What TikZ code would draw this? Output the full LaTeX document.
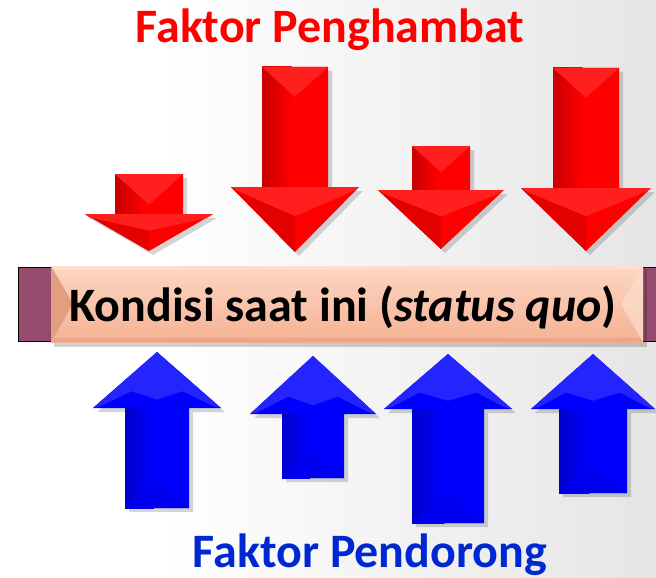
\documentclass[tikz,border=0pt]{standalone}
\usepackage{fontspec}
\setmainfont{Carlito}
\definecolor{arrred}{RGB}{255,0,0}
\definecolor{arrblue}{RGB}{0,0,255}
\definecolor{titleblue}{RGB}{0,40,210}
\definecolor{barpurple}{RGB}{150,75,110}
\definecolor{boxtop}{RGB}{252,214,194}
\definecolor{boxbot}{RGB}{245,178,148}
\definecolor{boxlight}{RGB}{253,222,204}
\definecolor{boxdark}{RGB}{226,158,128}
\newcommand{\redarr}[6]{% cx, half shaft, top, head base, half head, tip
  \fill[black,opacity=0.16] ({#1-#2+4},{#3+4}) -- ({#1+#2+4},{#3+4}) -- ({#1+#2+4},{#4+4}) -- ({#1+#5+4},{#4+4}) -- ({#1+4},{#6+4}) -- ({#1-#5+4},{#4+4}) -- ({#1-#2+4},{#4+4}) -- cycle;
  \fill[arrred] ({#1-#2},#3) -- ({#1+#2},#3) -- ({#1+#2},#4) -- ({#1+#5},#4) -- (#1,#6) -- ({#1-#5},#4) -- ({#1-#2},#4) -- cycle;
  \shade[left color=arrred!78!black,right color=arrred] ({#1-#2},#3) rectangle ({#1-#2*0.1},#4);
  \fill[arrred!88!white] ({#1-#2},#3) -- ({#1+#2},#3) -- (#1,{#3+#2*0.9}) -- cycle;
  \fill[arrred!88!white] ({#1-#5},#4) -- ({#1+#5},#4) -- ({#1+#5-6},{#4+4}) -- (#1,{#4+(#6-#4)*0.45}) -- ({#1-#5+6},{#4+4}) -- cycle;
  \fill[arrred!90!black] ({#1-#5+6},{#4+4}) -- (#1,{#4+(#6-#4)*0.45}) -- (#1,#6) -- ({#1-#5},#4) -- cycle;
}
\newcommand{\bluearr}[6]{% cx, half shaft, bottom, head base, half head, tip
  \fill[black,opacity=0.16] ({#1-#2+4},{#3+4}) -- ({#1+#2+4},{#3+4}) -- ({#1+#2+4},{#4+4}) -- ({#1+#5+4},{#4+4}) -- ({#1+4},{#6+4}) -- ({#1-#5+4},{#4+4}) -- ({#1-#2+4},{#4+4}) -- cycle;
  \fill[arrblue] ({#1-#2},#3) -- ({#1+#2},#3) -- ({#1+#2},#4) -- ({#1+#5},#4) -- (#1,#6) -- ({#1-#5},#4) -- ({#1-#2},#4) -- cycle;
  \shade[left color=arrblue!80!black,right color=arrblue] ({#1-#2},#3) rectangle ({#1-#2*0.1},#4);
  \fill[arrblue!94!black] ({#1-#2},#3) -- ({#1+#2},#3) -- (#1,{#3-#2*0.9}) -- cycle;
  \fill[arrblue!86!white] ({#1-#5},#4) -- (#1,#6) -- ({#1+#5},#4) -- ({#1+#5-8},{#4-2}) -- ({#1+#2*0.8},{#4-(#4-#6)*0.3}) -- (#1,{#4-(#4-#6)*0.15}) -- ({#1-#2*0.8},{#4-(#4-#6)*0.3}) -- ({#1-#5+8},{#4-2}) -- cycle;
}
\begin{document}
\begin{tikzpicture}[x=1pt,y=-1pt,
  title/.style={font=\fontsize{48}{54}\selectfont\bfseries,anchor=base},
  maintext/.style={font=\fontsize{48}{54}\selectfont\bfseries,anchor=base,text=black}]
\useasboundingbox (0,0) rectangle (656,578);
\fill[white] (0,0) rectangle (160,578);
\shade[left color=white,right color=black!10] (160,0) rectangle (656,578);
% status bar
\fill[barpurple,draw=black,line width=1pt] (18,267) rectangle (660,341);
\fill[black,opacity=0.18] (54,269) rectangle (647,347);
\shade[top color=boxtop,bottom color=boxbot] (51,266) rectangle (643,342);
\fill[boxlight] (51,266) -- (643,266) -- (639,270) -- (55,270) -- cycle;
\fill[boxbot!94!black] (51,342) -- (643,342) -- (639,338) -- (55,338) -- cycle;
\fill[boxdark] (51,266) -- (73,304) -- (51,342) -- cycle;
\fill[boxlight,opacity=0.7] (643,266) -- (621,304) -- (643,342) -- cycle;
\node[maintext] (status) at (343,321) {Kondisi saat ini (\textit{status quo})};
% red arrows
\redarr{149}{34}{174}{214}{64}{251}
\redarr{295}{33}{67}{187}{64}{252}
\redarr{441}{29}{146}{190}{63}{249}
\redarr{586}{33}{68}{188}{65}{251}
% blue arrows
\bluearr{157}{32}{508}{408}{64}{352}
\bluearr{313}{31}{478}{414}{63}{356}
\bluearr{448}{36}{523}{409}{64}{354}
\bluearr{593}{34}{493}{409}{62}{354}
% titles
\node[title,text=arrred] (hambat) at (330,43) {Faktor Penghambat};
\node[title,text=titleblue] (dorong) at (370,567) {Faktor Pendorong};
\end{tikzpicture}
\end{document}
